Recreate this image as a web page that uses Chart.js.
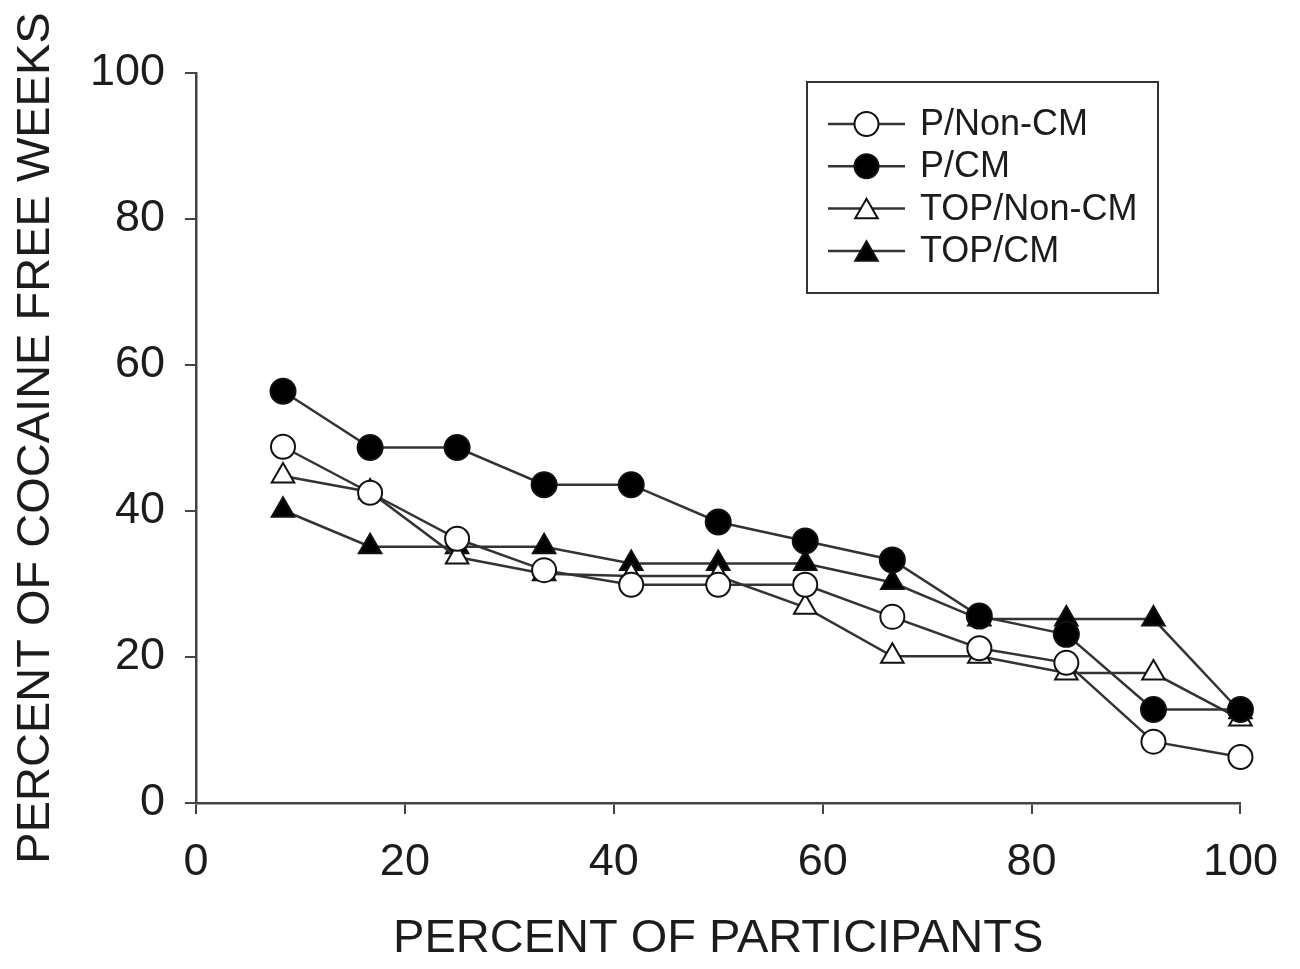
<!DOCTYPE html>
<html>
<head>
<meta charset="utf-8">
<script src="https://cdn.jsdelivr.net/npm/chart.js@4.4.1/dist/chart.umd.min.js"></script>
<style>
  html, body { margin: 0; padding: 0; background: #ffffff; }
  #wrap { width: 1300px; height: 969px; }
</style>
</head>
<body>
<div id="wrap"><canvas id="c" width="1300" height="969"></canvas></div>
<script>
// ---- data ----
const xValues = [8.33, 16.67, 25, 33.33, 41.67, 50, 58.33, 66.67, 75, 83.33, 91.67, 100];
const seriesLabels = ['P/Non-CM', 'P/CM', 'TOP/Non-CM', 'TOP/CM'];
const pNonCM   = [48.8, 42.5, 36.2, 31.9, 29.9, 29.9, 29.9, 25.5, 21.2, 19.2, 8.4, 6.3];
const pCM      = [56.4, 48.7, 48.7, 43.6, 43.6, 38.5, 35.9, 33.3, 25.6, 23.1, 12.8, 12.8];
const topNonCM = [44.8, 42.6, 33.7, 31.4, 31.1, 31.1, 26.8, 20.1, 20.1, 17.8, 17.8, 11.5];
const topCM    = [40.1, 35.1, 35.1, 35.1, 32.8, 32.8, 32.8, 30.2, 25.2, 25.2, 25.2, 12.5];
const xTitle = 'PERCENT OF PARTICIPANTS';
const yTitle = 'PERCENT OF COCAINE FREE WEEKS';

const FONT = "'Liberation Sans', Arial, Helvetica, sans-serif";
const LINE = '#333333';
const TEXT = '#1c1c1c';

function pts(ys) { return xValues.map((x, i) => ({ x: x, y: ys[i] })); }

const styles = [
  { data: pNonCM,   pointStyle: 'circle',   fill: '#ffffff', radius: 12 },
  { data: pCM,      pointStyle: 'circle',   fill: '#000000', radius: 12.5 },
  { data: topNonCM, pointStyle: 'triangle', fill: '#ffffff', radius: 13 },
  { data: topCM,    pointStyle: 'triangle', fill: '#000000', radius: 13 }
];

const datasets = styles.map((s, i) => ({
  label: seriesLabels[i],
  data: pts(s.data),
  borderColor: LINE,
  borderWidth: 2.5,
  pointStyle: s.pointStyle,
  pointRadius: s.radius,
  pointBackgroundColor: s.fill,
  pointBorderColor: '#111111',
  pointBorderWidth: 2,
  tension: 0,
  fill: false,
  clip: false
}));

// custom boxed legend drawn inside the plot
const boxLegend = {
  id: 'boxLegend',
  afterDraw(chart, args, opts) {
    const ctx = chart.ctx;
    ctx.save();
    ctx.strokeStyle = LINE;
    ctx.lineWidth = 2;
    ctx.strokeRect(opts.x, opts.y, opts.w, opts.h);
    ctx.font = opts.fontSize + 'px ' + FONT;
    ctx.textBaseline = 'middle';
    ctx.textAlign = 'left';
    chart.data.datasets.forEach((ds, i) => {
      const cy = opts.firstRow + i * opts.rowGap;
      ctx.strokeStyle = LINE;
      ctx.lineWidth = 2.5;
      ctx.beginPath();
      ctx.moveTo(opts.lineX0, cy);
      ctx.lineTo(opts.lineX1, cy);
      ctx.stroke();
      const mx = (opts.lineX0 + opts.lineX1) / 2;
      const r = ds.pointStyle === 'triangle' ? 13 : 12;
      ctx.beginPath();
      if (ds.pointStyle === 'circle') {
        ctx.arc(mx, cy, r, 0, Math.PI * 2);
      } else {
        for (let k = 0; k < 3; k++) {
          const a = k * 2 * Math.PI / 3;
          const px = mx + Math.sin(a) * r, py = cy - Math.cos(a) * r + r / 4;
          if (k === 0) ctx.moveTo(px, py); else ctx.lineTo(px, py);
        }
        ctx.closePath();
      }
      ctx.fillStyle = ds.pointBackgroundColor;
      ctx.fill();
      ctx.strokeStyle = '#111111';
      ctx.lineWidth = 2;
      ctx.stroke();
      ctx.fillStyle = TEXT;
      ctx.fillText(ds.label, opts.textX, cy + 1);
    });
    ctx.restore();
  }
};

new Chart(document.getElementById('c'), {
  type: 'line',
  data: { datasets: datasets },
  plugins: [boxLegend],
  options: {
    responsive: false,
    animation: false,
    devicePixelRatio: 1,
    layout: { padding: { left: 0, top: 73, right: 58, bottom: 0 } },
    plugins: {
      legend: { display: false },
      tooltip: { enabled: false },
      boxLegend: {
        x: 807, y: 82, w: 351, h: 211,
        firstRow: 124, rowGap: 42.3,
        lineX0: 828, lineX1: 905, textX: 920, fontSize: 36
      }
    },
    scales: {
      x: {
        type: 'linear',
        min: 0, max: 100,
        afterFit(scale) { scale.height = 166; },
        border: { display: true, color: '#444444', width: 2.5 },
        grid: { display: true, drawOnChartArea: false, drawTicks: true, tickLength: 11, color: '#444444', lineWidth: 2 },
        ticks: { stepSize: 20, padding: 22, color: TEXT, font: { family: FONT, size: 45 } },
        title: { display: true, text: xTitle, color: TEXT, padding: { top: 0, bottom: 2 }, font: { family: FONT, size: 47 } }
      },
      y: {
        min: 0, max: 100,
        afterFit(scale) { scale.width = 196; },
        border: { display: true, color: '#444444', width: 2.5 },
        grid: { display: true, drawOnChartArea: false, drawTicks: true, tickLength: 11, color: '#444444', lineWidth: 2 },
        ticks: { stepSize: 20, padding: 20, color: TEXT, font: { family: FONT, size: 45 } },
        title: { display: true, text: yTitle, color: TEXT, padding: { top: 8, bottom: 0 }, font: { family: FONT, size: 47 } }
      }
    }
  }
});
</script>
</body>
</html>
